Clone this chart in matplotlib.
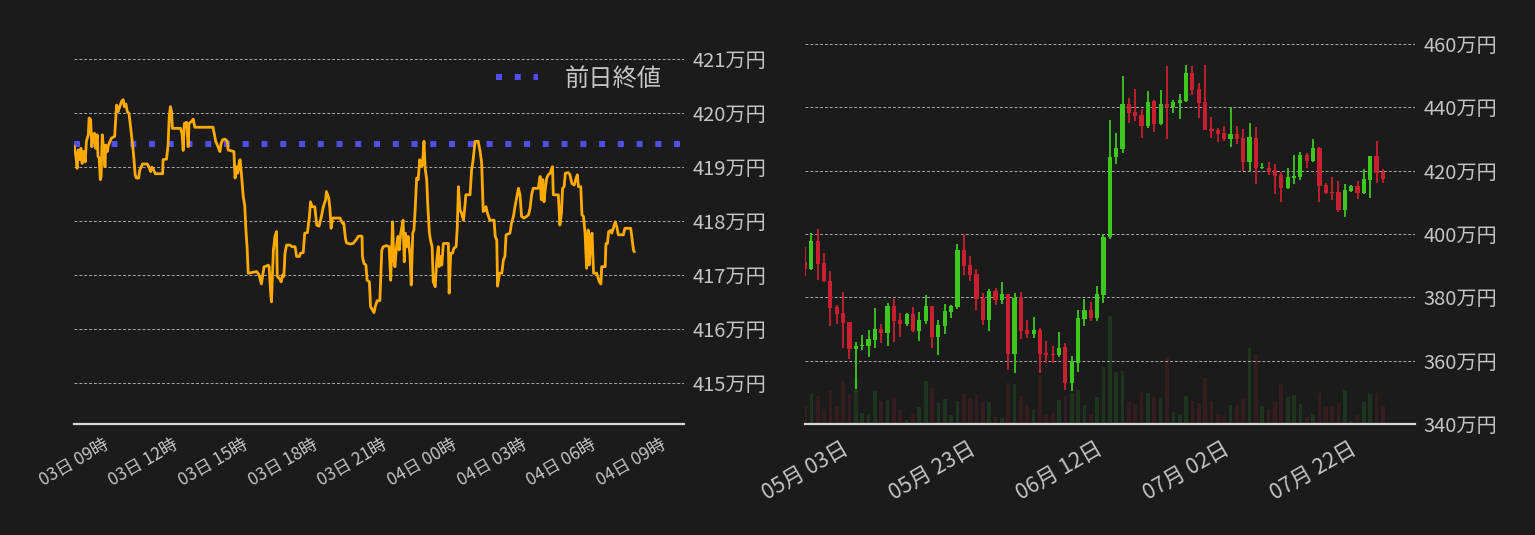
import matplotlib
matplotlib.use("Agg")
import matplotlib.dates as mdates
import matplotlib.pyplot as plt
import matplotlib.ticker as mticker
import numpy as np
import pandas as pd

plt.rcParams["font.family"] = ["Noto Sans CJK JP", "DejaVu Sans"]

BG = "#1b1b1b"
TEXT = "#c4c4c4"
UP = "#3ec81e"
DOWN = "#c8202e"
UP_VOL = "#1f341f"
DOWN_VOL = "#341d1f"

# ---- 1日チャート (03日 09:00 から), 万円
intraday_start = pd.Timestamp("2021-08-03 09:00")
intraday_minutes = [
    1, 5, 8, 11, 15, 18, 21, 25, 29, 32,
    37, 39, 43, 46, 49, 53, 56, 60, 62, 65,
    68, 70, 73, 76, 80, 82, 86, 89, 93, 97,
    105, 110, 114, 118, 123, 127, 130, 134, 138, 142,
    146, 151, 155, 158, 161, 167, 170, 177, 189, 194,
    198, 201, 204, 210, 229, 230, 239, 243, 246, 249,
    252, 254, 275, 279, 282, 285, 291, 295, 297, 304,
    308, 312, 359, 366, 372, 377, 380, 384, 390, 396,
    398, 413, 416, 420, 423, 427, 429, 433, 437, 441,
    444, 447, 450, 472, 478, 484, 491, 497, 502, 504,
    508, 510, 515, 519, 523, 525, 532, 535, 539, 542,
    545, 549, 558, 563, 571, 575, 582, 585, 592, 596,
    603, 608, 611, 615, 622, 627, 633, 639, 644, 650,
    652, 658, 661, 664, 668, 687, 694, 697, 701, 704,
    713, 721, 730, 734, 740, 744, 745, 749, 754, 757,
    763, 766, 771, 775, 778, 783, 790, 795, 799, 807,
    814, 818, 821, 823, 826, 829, 833, 837, 840, 844,
    847, 850, 853, 856, 859, 863, 868, 871, 875, 878,
    881, 885, 889, 893, 897, 900, 904, 907, 911, 914,
    918, 921, 925, 928, 933, 937, 941, 943, 947, 950,
    954, 967, 969, 973, 978, 981, 987, 990, 993, 997,
    1001, 1006, 1010, 1012, 1023, 1027, 1031, 1036, 1044, 1049,
    1053, 1057, 1062, 1064, 1068, 1074, 1085, 1088, 1092, 1094,
    1099, 1105, 1109, 1113, 1116, 1126, 1130, 1135, 1139, 1148,
    1152, 1156, 1162, 1169, 1174, 1178, 1182, 1186, 1199, 1204,
    1207, 1211, 1214, 1217, 1221, 1225, 1230, 1234, 1236, 1238,
    1251, 1255, 1259, 1262, 1266, 1269, 1277, 1281, 1286, 1292,
    1297, 1300, 1303, 1309, 1312, 1316, 1320, 1324, 1328, 1331,
    1335, 1338, 1342, 1350, 1357, 1361, 1363, 1372, 1374, 1378,
    1381, 1386, 1389, 1393, 1398, 1402, 1406, 1419, 1423, 1438,
    1442, 1445, 1447,
]
intraday_price = [
    419.38, 419.20, 418.98, 419.32, 419.14, 419.35, 419.07, 419.29, 419.10, 419.48,
    419.60, 419.91, 419.88, 419.38, 419.60, 419.63, 419.35, 419.60, 419.20, 419.17,
    418.77, 418.83, 419.60, 419.38, 419.01, 419.41, 419.29, 419.41, 419.48, 419.54,
    419.57, 420.15, 420.03, 420.12, 420.22, 420.25, 420.12, 420.17, 420.02, 420.00,
    419.75, 419.44, 419.14, 418.86, 418.80, 418.80, 418.95, 419.06, 419.06, 419.00,
    418.92, 419.00, 418.98, 418.88, 418.88, 419.14, 419.15, 419.41, 419.94, 420.12,
    420.03, 419.72, 419.72, 419.63, 419.31, 419.81, 419.83, 419.38, 419.81, 419.85,
    419.89, 419.74, 419.74, 419.48, 419.38, 419.29, 419.44, 419.51, 419.52, 419.48,
    419.32, 419.29, 418.80, 419.01, 418.89, 419.10, 419.14, 418.83, 418.46, 418.30,
    417.84, 417.53, 417.04, 417.07, 417.01, 416.84, 417.16, 417.17, 417.19, 417.16,
    416.67, 416.51, 417.47, 417.72, 417.81, 416.98, 416.93, 416.88, 417.01, 416.98,
    417.41, 417.56, 417.56, 417.53, 417.53, 417.35, 417.35, 417.41, 417.42, 417.78,
    417.79, 418.09, 418.36, 418.27, 418.27, 417.93, 417.91, 418.09, 418.27, 418.40,
    418.55, 418.43, 418.24, 417.87, 418.06, 418.06, 417.96, 417.96, 417.69, 417.60,
    417.58, 417.59, 417.67, 417.72, 417.73, 417.72, 417.35, 417.22, 417.19, 416.91,
    416.88, 416.42, 416.36, 416.31, 416.42, 416.53, 416.53, 417.47, 417.53, 417.55,
    417.53, 416.91, 417.53, 417.99, 417.28, 417.16, 417.53, 417.72, 417.47, 417.78,
    417.90, 418.02, 417.25, 417.78, 417.53, 417.72, 417.35, 416.82, 417.78, 417.84,
    418.18, 418.80, 418.77, 419.14, 419.01, 419.04, 419.48, 418.98, 418.77, 418.27,
    417.78, 417.65, 417.53, 416.88, 416.79, 417.28, 417.53, 417.16, 417.35, 417.19,
    417.59, 417.59, 416.67, 417.41, 417.41, 417.50, 417.53, 417.90, 418.64, 418.21,
    418.15, 418.02, 418.30, 418.49, 418.49, 418.95, 419.14, 419.48, 419.48, 419.29,
    419.07, 418.18, 418.21, 418.27, 418.15, 418.02, 418.02, 417.72, 417.65, 416.80,
    417.04, 417.04, 417.28, 417.35, 417.75, 417.78, 417.96, 418.09, 418.27, 418.61,
    418.49, 418.09, 418.06, 418.09, 418.12, 418.24, 418.49, 418.61, 418.61, 418.83,
    418.40, 418.77, 418.36, 418.58, 418.80, 418.86, 418.89, 418.98, 419.01, 418.49,
    418.49, 417.93, 418.15, 418.61, 418.64, 418.89, 418.90, 418.86, 418.70, 418.67,
    418.80, 418.86, 418.64, 418.64, 418.12, 418.09, 417.78, 417.13, 417.84, 417.19,
    417.65, 417.78, 417.04, 417.04, 416.88, 416.84, 417.16, 417.16, 417.59, 417.59,
    417.81, 417.83, 417.78, 417.87, 417.99, 417.90, 417.75, 417.75, 417.87, 417.87,
    417.65, 417.47, 417.44,
]
prev_close = 419.43

# ---- 日足 (05月03日 から), 万円
daily_start = pd.Timestamp("2021-05-03")
daily_open = [
    391.3, 388.9, 397.9, 390.7, 385.3, 376.9, 375.0, 372.1, 363.8, 364.7,
    364.7, 366.6, 369.9, 368.8, 377.2, 372.8, 371.5, 374.7, 369.4, 372.6,
    377.2, 367.5, 371.0, 375.3, 376.9, 395.1, 390.1, 387.5, 379.7, 372.8,
    381.9, 379.1, 380.9, 362.1, 379.7, 369.6, 368.4, 369.6, 362.4, 362.1,
    361.8, 364.3, 353.0, 359.3, 373.1, 375.9, 373.4, 380.6, 399.1, 424.2,
    426.7, 441.0, 438.5, 437.6, 434.2, 442.0, 434.8, 441.0, 440.0, 441.4,
    442.0, 450.7, 445.7, 441.7, 433.2, 432.9, 432.0, 430.1, 431.7, 430.4,
    422.6, 430.4, 420.8, 421.0, 420.1, 418.5, 414.5, 417.6, 417.9, 424.8,
    423.2, 427.3, 415.4, 413.2, 413.2, 407.6, 413.5, 415.1, 412.9, 417.0,
    424.5, 419.5,
]
daily_high = [
    396.0, 400.3, 401.7, 394.1, 388.2, 377.5, 381.6, 372.3, 365.8, 368.1,
    369.6, 376.5, 371.5, 378.1, 379.4, 375.0, 375.0, 376.9, 375.3, 380.6,
    377.4, 372.8, 377.8, 377.5, 397.0, 400.0, 393.2, 388.8, 381.3, 382.5,
    383.1, 384.7, 381.0, 381.3, 381.6, 372.8, 373.7, 370.3, 366.2, 364.6,
    369.0, 365.5, 361.5, 375.9, 379.4, 378.4, 383.5, 400.0, 436.0, 432.0,
    449.8, 442.9, 445.7, 439.5, 445.1, 442.2, 445.4, 452.9, 442.3, 444.2,
    453.5, 453.2, 447.6, 453.5, 437.0, 433.5, 434.2, 440.1, 434.2, 433.2,
    435.1, 433.9, 422.3, 422.6, 422.0, 419.5, 420.7, 424.8, 426.0, 425.7,
    430.1, 427.5, 416.0, 417.9, 416.7, 415.7, 415.4, 416.7, 420.4, 424.7,
    429.5, 420.4,
]
daily_low = [
    386.7, 388.6, 385.4, 385.0, 371.0, 371.5, 364.1, 360.6, 351.2, 363.5,
    361.3, 364.1, 365.7, 364.7, 366.0, 367.4, 370.9, 369.0, 366.3, 371.5,
    364.1, 361.9, 368.4, 373.5, 376.3, 386.9, 385.3, 375.9, 371.2, 369.3,
    377.5, 377.8, 357.1, 356.1, 366.8, 367.1, 367.1, 356.1, 359.3, 359.3,
    361.2, 350.8, 350.5, 356.4, 370.9, 372.5, 372.5, 378.1, 398.4, 422.0,
    425.7, 435.1, 435.7, 430.4, 433.5, 432.3, 434.5, 430.1, 438.2, 436.4,
    441.7, 443.9, 436.7, 432.7, 430.4, 428.9, 429.5, 427.6, 428.5, 419.8,
    419.8, 415.7, 420.4, 418.5, 412.6, 410.1, 414.3, 415.7, 417.0, 421.0,
    422.6, 410.1, 412.6, 410.7, 407.0, 405.4, 413.3, 411.0, 412.6, 411.4,
    416.0, 416.0,
]
daily_close = [
    388.9, 397.9, 390.5, 385.1, 376.6, 374.8, 371.9, 363.8, 364.6, 364.9,
    366.8, 369.9, 368.8, 377.2, 372.6, 371.5, 374.7, 369.3, 372.8, 377.2,
    367.5, 371.2, 375.6, 377.2, 395.1, 389.8, 387.2, 379.4, 372.8, 381.9,
    379.1, 380.9, 362.1, 379.7, 369.3, 368.4, 369.6, 362.1, 361.8, 361.9,
    364.0, 353.0, 359.6, 373.4, 375.9, 373.4, 380.9, 399.2, 424.2, 427.3,
    441.0, 438.2, 437.3, 434.2, 441.7, 434.8, 441.0, 440.0, 441.7, 442.3,
    450.7, 445.4, 441.4, 432.9, 432.6, 431.7, 430.1, 431.7, 430.1, 422.6,
    430.7, 420.7, 421.0, 419.8, 418.2, 414.5, 417.9, 418.2, 424.8, 422.9,
    427.3, 415.1, 412.9, 412.9, 407.6, 413.9, 415.1, 412.9, 417.3, 424.5,
    419.2, 417.3,
]
daily_volume = [
    18, 30, 28, 15, 33, 18, 43, 30, 46, 11,
    10, 33, 23, 24, 27, 14, 4, 10, 17, 43,
    36, 21, 25, 9, 23, 30, 26, 30, 22, 22,
    7, 6, 41, 40, 28, 19, 14, 49, 10, 11,
    24, 28, 31, 34, 19, 10, 27, 56, 107, 52,
    53, 22, 20, 32, 31, 27, 26, 66, 12, 10,
    28, 23, 21, 46, 23, 10, 9, 19, 19, 25,
    75, 69, 18, 15, 23, 40, 27, 29, 20, 7,
    10, 31, 17, 17, 21, 34, 3, 9, 22, 30,
    31, 18,
]

yen_fmt = mticker.FuncFormatter(lambda v, _: f"{v:.0f}万円")


def style_axis(ax, xlabel_size, xpad):
    ax.set_facecolor(BG)
    for side in ("top", "left", "right"):
        ax.spines[side].set_visible(False)
    ax.spines["bottom"].set_color("#d6d6d6")
    ax.spines["bottom"].set_linewidth(1.6)
    ax.yaxis.tick_right()
    ax.tick_params(axis="y", length=0, colors=TEXT, labelsize=14.5, pad=6)
    ax.tick_params(axis="x", length=0, colors=TEXT, labelsize=xlabel_size,
                   labelrotation=30, pad=xpad)
    ax.grid(axis="y", color="#a8a8a8", linestyle=(0, (3, 2)), linewidth=0.7)
    ax.set_axisbelow(True)
    ax.yaxis.set_major_formatter(yen_fmt)


fig = plt.figure(figsize=(15.35, 5.35), dpi=100, facecolor=BG)
ax1 = fig.add_axes([74 / 1535, 111 / 535, 610 / 1535, 380 / 535])
ax2 = fig.add_axes([805 / 1535, 111 / 535, 610 / 1535, 380 / 535])

# ---- left: intraday line
t = intraday_start + pd.to_timedelta(intraday_minutes, unit="m")
tx = mdates.date2num(t)
ax1.plot(tx, intraday_price, color="#ffaa00", linewidth=2.0, zorder=3)
ax1.axhline(prev_close, color="#5050f0", linewidth=4.3,
            linestyle=(0, (1, 2.14)), label="前日終値", zorder=2)
x0 = mdates.date2num(intraday_start)
ax1.set_xlim(x0, x0 + 26.26 / 24)
ax1.set_ylim(414.25, 421.28)
ax1.yaxis.set_major_locator(mticker.MultipleLocator(1))
ax1.xaxis.set_major_locator(mdates.HourLocator(byhour=range(0, 24, 3)))
ax1.xaxis.set_major_formatter(mdates.DateFormatter("%d日 %H時"))
style_axis(ax1, 12.5, 8)
leg = ax1.legend(loc="upper right", frameon=False, fontsize=17.5,
                 handlelength=1.75, handletextpad=1.1, borderaxespad=0.45,
                 borderpad=0.45)
for txt in leg.get_texts():
    txt.set_color(TEXT)

# ---- right: daily candles + volume
days = pd.date_range(daily_start, periods=len(daily_open), freq="D")
dx = mdates.date2num(days)
o = np.array(daily_open)
c = np.array(daily_close)
up = c >= o
candle_colors = np.where(up, UP, DOWN)
vol_colors = np.where(up, UP_VOL, DOWN_VOL)

vax = ax2.twinx()
vax.bar(dx, daily_volume, width=0.58, color=vol_colors)
vax.set_ylim(0, max(daily_volume) * 380 / 108)
vax.set_yticks([])
for side in vax.spines:
    vax.spines[side].set_visible(False)
ax2.set_zorder(vax.get_zorder() + 1)
ax2.patch.set_visible(False)

ax2.vlines(dx, daily_low, daily_high, colors=candle_colors, linewidth=1.3, zorder=3)
body = np.maximum(np.abs(c - o), 0.35)
ax2.bar(dx, body, bottom=np.minimum(o, c), width=0.66, color=candle_colors, zorder=4)

ax2.set_xlim(dx[0], dx[0] + 96.05)
ax2.set_ylim(340, 460)
ax2.yaxis.set_major_locator(mticker.MultipleLocator(20))
ax2.xaxis.set_major_locator(mticker.FixedLocator(dx[::20]))
ax2.xaxis.set_major_formatter(mdates.DateFormatter("%m月 %d日"))
style_axis(ax2, 15.5, 10)

fig.savefig("out.png", dpi=100, facecolor=BG)
